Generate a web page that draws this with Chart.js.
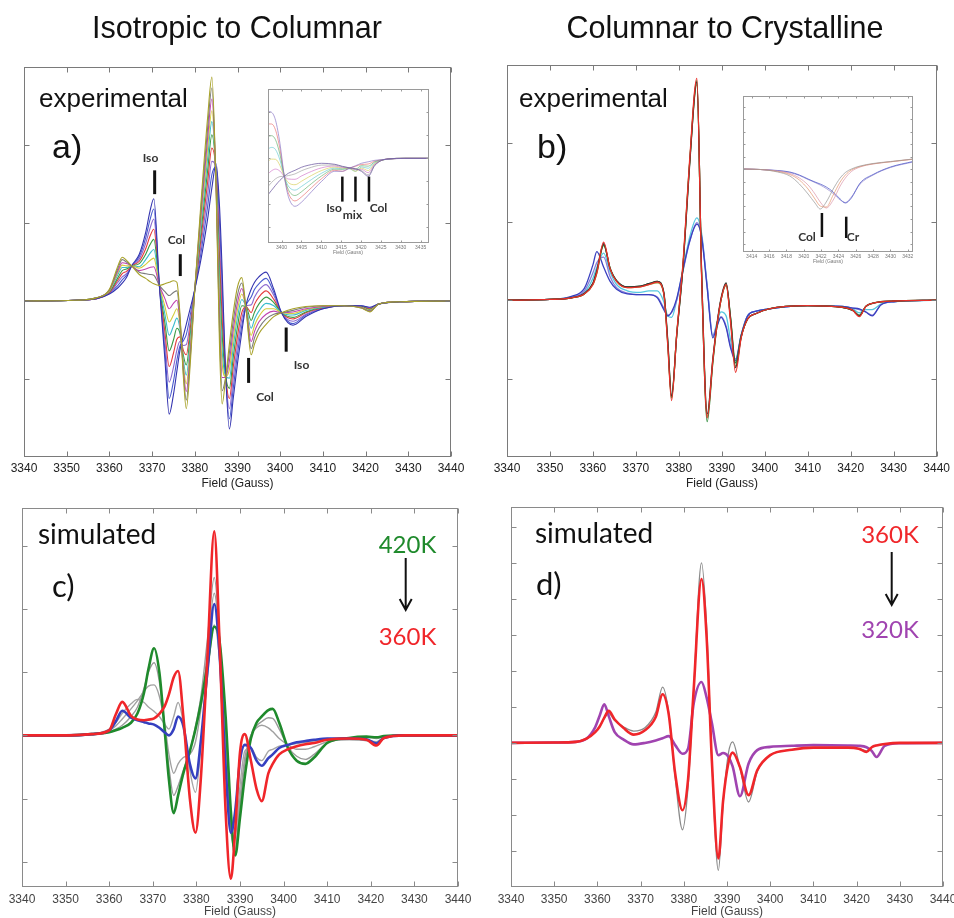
<!DOCTYPE html>
<html>
<head>
<meta charset="utf-8">
<script src="https://cdn.jsdelivr.net/npm/chart.js@4.4.0/dist/chart.umd.min.js"></script>
<style>
  html, body { margin: 0; padding: 0; background: #fff; width: 954px; height: 918px; overflow: hidden; }
  canvas { position: absolute; }
</style>
</head>
<body>
<canvas id="panelA" width="477" height="500" style="left:0px;top:0px"></canvas>
<canvas id="panelB" width="477" height="500" style="left:477px;top:0px"></canvas>
<canvas id="panelC" width="477" height="418" style="left:0px;top:500px"></canvas>
<canvas id="panelD" width="490" height="418" style="left:477px;top:500px"></canvas>
<canvas id="insetA" width="182" height="178" style="left:258px;top:84px"></canvas>
<canvas id="insetB" width="190" height="178" style="left:735px;top:90px"></canvas>
<script>
// ---- axis ticks ----
const fieldTicks = [3340, 3350, 3360, 3370, 3380, 3390, 3400, 3410, 3420, 3430, 3440];
const insetATicks = [3400, 3405, 3410, 3415, 3420, 3425, 3430, 3435];
const insetBTicks = [3414, 3416, 3418, 3420, 3422, 3424, 3426, 3428, 3430, 3432];
const yTicksAB = [-1, 0, 1, 2];
const yTicksC = [-2, -1, 0, 1, 2, 3];
const yTicksD = [-3, -2, -1, 0, 1, 2, 3, 4, 5, 6];
const yTicksAi = [-6.9, -4.6, -2.3, 0, 2.3, 4.6];
const yTicksBi = [-7.5, -6.25, -5, -3.75, -2.5, -1.25, 0, 1.25, 2.5, 3.75, 5, 6.25];

// ---- a) experimental, isotropic -> columnar ----
const fieldA = [3340, 3352, 3357, 3360, 3362, 3363, 3364, 3365.2, 3367, 3368.5, 3369.5, 3370.4, 3371.7, 3373, 3374, 3375, 3375.8, 3376.5, 3377.3, 3378, 3379, 3380, 3381.5, 3383, 3384, 3385, 3385.8, 3386.4, 3387.2, 3388.1, 3389, 3390, 3391, 3392, 3393.2, 3394, 3395, 3396.7, 3398.5, 3400.3, 3403, 3406, 3410, 3415, 3419, 3421, 3423, 3428, 3440];
const aIso = [0, 0.01, 0.03, 0.09, 0.17, 0.23, 0.30, 0.45, 0.60, 0.88, 1.15, 1.31, 0.20, -0.75, -1.45, -1.20, -0.90, -0.64, -0.45, -0.30, -0.08, 0.15, 0.55, 1.05, 1.45, 1.76, 1.20, 0.40, -0.90, -1.64, -1.25, -0.80, -0.40, -0.05, 0.15, 0.24, 0.31, 0.37, 0.15, -0.15, -0.31, -0.20, -0.10, -0.06, -0.06, -0.08, -0.04, -0.01, 0];
const aMix1 = [0, 0.01, 0.03, 0.10, 0.20, 0.27, 0.33, 0.45, 0.57, 0.81, 1.04, 1.18, 0.20, -0.63, -1.25, -1.03, -0.76, -0.58, -0.51, -0.43, -0.16, 0.15, 0.64, 1.21, 1.62, 1.72, 0.98, 0.19, -0.91, -1.51, -1.12, -0.68, -0.32, -0.06, 0.05, 0.15, 0.22, 0.29, 0.11, -0.15, -0.29, -0.18, -0.10, -0.06, -0.06, -0.09, -0.04, -0.01, 0];
const aMix2 = [0, 0.01, 0.03, 0.10, 0.24, 0.31, 0.35, 0.45, 0.54, 0.74, 0.93, 1.05, 0.20, -0.52, -1.04, -0.85, -0.63, -0.52, -0.57, -0.56, -0.24, 0.15, 0.73, 1.36, 1.79, 1.67, 0.77, -0.01, -0.92, -1.38, -0.99, -0.57, -0.23, -0.06, -0.05, 0.05, 0.14, 0.21, 0.07, -0.15, -0.26, -0.17, -0.09, -0.06, -0.07, -0.09, -0.04, -0.01, 0];
const aMix3 = [0, 0.01, 0.03, 0.11, 0.27, 0.35, 0.38, 0.45, 0.51, 0.67, 0.83, 0.92, 0.20, -0.40, -0.84, -0.67, -0.49, -0.46, -0.63, -0.69, -0.32, 0.15, 0.82, 1.52, 1.96, 1.63, 0.55, -0.22, -0.94, -1.25, -0.85, -0.45, -0.15, -0.07, -0.15, -0.04, 0.05, 0.13, 0.02, -0.15, -0.23, -0.15, -0.09, -0.06, -0.07, -0.10, -0.04, -0.01, 0];
const aMix4 = [0, 0.01, 0.04, 0.12, 0.30, 0.39, 0.41, 0.45, 0.48, 0.60, 0.72, 0.79, 0.20, -0.28, -0.64, -0.50, -0.35, -0.41, -0.69, -0.82, -0.40, 0.15, 0.91, 1.67, 2.13, 1.59, 0.34, -0.43, -0.95, -1.12, -0.72, -0.33, -0.06, -0.07, -0.25, -0.14, -0.04, 0.05, -0.02, -0.15, -0.21, -0.14, -0.08, -0.06, -0.07, -0.11, -0.04, -0.01, 0];
const aMix5 = [0, 0.01, 0.04, 0.13, 0.34, 0.43, 0.43, 0.45, 0.44, 0.53, 0.61, 0.66, 0.20, -0.17, -0.44, -0.32, -0.22, -0.35, -0.75, -0.95, -0.48, 0.15, 1.00, 1.83, 2.30, 1.54, 0.12, -0.63, -0.96, -0.99, -0.59, -0.21, 0.02, -0.08, -0.35, -0.23, -0.13, -0.03, -0.06, -0.15, -0.18, -0.12, -0.08, -0.06, -0.08, -0.12, -0.04, -0.01, 0];
const aMix6 = [0, 0.01, 0.04, 0.13, 0.37, 0.46, 0.45, 0.45, 0.42, 0.47, 0.52, 0.55, 0.20, -0.07, -0.27, -0.18, -0.10, -0.30, -0.80, -1.06, -0.55, 0.15, 1.08, 1.96, 2.44, 1.51, -0.06, -0.80, -0.97, -0.88, -0.48, -0.11, 0.09, -0.09, -0.44, -0.31, -0.20, -0.10, -0.10, -0.15, -0.16, -0.11, -0.07, -0.06, -0.08, -0.12, -0.04, -0.01, 0];
const aMix7 = [0, 0.01, 0.04, 0.14, 0.39, 0.49, 0.48, 0.45, 0.39, 0.41, 0.43, 0.44, 0.20, 0.03, -0.10, -0.03, 0.01, -0.25, -0.85, -1.16, -0.62, 0.15, 1.15, 2.09, 2.59, 1.47, -0.24, -0.98, -0.98, -0.77, -0.37, -0.02, 0.16, -0.09, -0.52, -0.39, -0.27, -0.17, -0.13, -0.15, -0.14, -0.10, -0.07, -0.06, -0.08, -0.13, -0.04, -0.01, 0];
const aMix8 = [0, 0.01, 0.04, 0.14, 0.42, 0.53, 0.50, 0.45, 0.37, 0.35, 0.34, 0.33, 0.20, 0.12, 0.07, 0.11, 0.13, -0.20, -0.90, -1.27, -0.68, 0.15, 1.23, 2.22, 2.73, 1.44, -0.42, -1.15, -0.99, -0.66, -0.26, 0.08, 0.23, -0.10, -0.61, -0.47, -0.35, -0.23, -0.17, -0.15, -0.12, -0.08, -0.06, -0.06, -0.09, -0.13, -0.04, -0.01, 0];
const aCol = [0, 0.01, 0.04, 0.15, 0.45, 0.56, 0.52, 0.45, 0.34, 0.29, 0.25, 0.22, 0.20, 0.22, 0.24, 0.26, 0.24, -0.15, -0.95, -1.38, -0.75, 0.15, 1.30, 2.35, 2.87, 1.40, -0.60, -1.32, -1.00, -0.55, -0.15, 0.18, 0.30, -0.10, -0.69, -0.55, -0.42, -0.30, -0.20, -0.15, -0.10, -0.07, -0.06, -0.06, -0.09, -0.14, -0.04, -0.01, 0];

// inset of a): high-field wing
const fieldAi = [3396.5, 3397.5, 3398.5, 3399.6, 3400.7, 3401.7, 3403.4, 3405, 3406.7, 3410.1, 3413.4, 3415.3, 3417, 3418.6, 3420.1, 3421.8, 3423.5, 3426.8, 3431, 3437.1];
const aiIso = [4.7, 4.6, 3.8, 1.5, -1.8, -3.8, -4.8, -4.4, -3.7, -2.3, -1.3, -1.3, -1.0, -0.75, -0.5, -0.35, -0.2, -0.1, 0, 0];
const aiMix1 = [3.44, 3.43, 2.82, 0.94, -1.8, -3.45, -4.26, -3.87, -3.25, -2.03, -1.2, -1.3, -1.0, -0.8, -0.62, -0.57, -0.28, -0.09, 0, 0];
const aiMix2 = [2.18, 2.26, 1.85, 0.39, -1.8, -3.11, -3.72, -3.35, -2.8, -1.76, -1.09, -1.11, -1.0, -1.1, -0.74, -0.79, -0.35, -0.09, 0, 0];
const aiMix3 = [0.92, 1.09, 0.87, -0.17, -1.8, -2.76, -3.18, -2.82, -2.35, -1.49, -0.98, -1.05, -1.05, -1.3, -0.86, -1.0, -0.43, -0.08, 0, 0];
const aiMix4 = [-0.34, -0.08, -0.1, -0.72, -1.8, -2.42, -2.64, -2.3, -1.9, -1.22, -0.88, -0.98, -1.0, -1.3, -0.98, -1.22, -0.5, -0.07, 0, 0];
const aiMix5 = [-1.6, -1.25, -1.08, -1.28, -1.8, -2.07, -2.1, -1.77, -1.45, -0.95, -0.77, -0.91, -0.95, -1.15, -1.1, -1.44, -0.58, -0.06, 0, 0];
const aiMix6 = [-2.86, -2.42, -2.05, -1.83, -1.8, -1.73, -1.56, -1.25, -1.0, -0.68, -0.67, -0.84, -0.95, -1.02, -1.22, -1.66, -0.65, -0.06, 0, 0];
const aiCol = [-3.7, -3.2, -2.7, -2.2, -1.8, -1.5, -1.2, -0.9, -0.7, -0.5, -0.6, -0.8, -0.95, -1.05, -1.3, -1.8, -0.7, -0.05, 0, 0];

// ---- b) experimental, columnar -> crystalline ----
const fieldB = [3340, 3350, 3355, 3358, 3360, 3360.9, 3362.5, 3364, 3365.5, 3368, 3371, 3373, 3375, 3376.5, 3377.4, 3378.3, 3379.5, 3381, 3382.5, 3384.2, 3385.3, 3386.6, 3387.9, 3388.8, 3389.8, 3391, 3392, 3393.2, 3394.5, 3396, 3398, 3401, 3410, 3418, 3420.5, 3422, 3423.5, 3425, 3427, 3430, 3440];
const bRed = [0, 0.01, 0.03, 0.08, 0.2, 0.35, 0.74, 0.4, 0.24, 0.16, 0.17, 0.2, 0.23, 0.08, -0.56, -1.28, -0.43, 0.5, 1.78, 2.83, 0.3, -1.5, -0.77, -0.35, 0, 0.2, -0.26, -0.92, -0.48, -0.24, -0.17, -0.11, -0.07, -0.09, -0.13, -0.21, -0.08, -0.04, -0.02, -0.01, 0];
const bBlack = [0, 0.01, 0.03, 0.09, 0.22, 0.38, 0.72, 0.4, 0.25, 0.17, 0.18, 0.21, 0.24, 0.1, -0.5, -1.22, -0.45, 0.45, 1.72, 2.78, 0.35, -1.45, -0.75, -0.33, 0.02, 0.22, -0.22, -0.86, -0.47, -0.24, -0.17, -0.11, -0.07, -0.09, -0.13, -0.2, -0.08, -0.04, -0.02, -0.01, 0];
const bGreen = [0, 0.01, 0.03, 0.08, 0.21, 0.36, 0.7, 0.41, 0.25, 0.17, 0.18, 0.21, 0.24, 0.09, -0.52, -1.24, -0.44, 0.46, 1.74, 2.8, 0.33, -1.55, -0.8, -0.36, 0.0, 0.21, -0.2, -0.8, -0.46, -0.24, -0.17, -0.11, -0.07, -0.09, -0.13, -0.19, -0.08, -0.04, -0.02, -0.01, 0];
const bOlive = [0, 0.01, 0.03, 0.08, 0.2, 0.34, 0.71, 0.4, 0.24, 0.16, 0.17, 0.2, 0.22, 0.08, -0.54, -1.25, -0.44, 0.48, 1.75, 2.75, 0.32, -1.48, -0.78, -0.35, 0.0, 0.19, -0.22, -0.84, -0.47, -0.24, -0.17, -0.11, -0.07, -0.09, -0.13, -0.2, -0.08, -0.04, -0.02, -0.01, 0];
const bBlue = [0, 0.01, 0.05, 0.15, 0.45, 0.62, 0.42, 0.24, 0.14, 0.08, 0.07, 0.07, 0.03, -0.12, -0.2, -0.15, 0.02, 0.4, 0.75, 0.97, 0.8, 0.15, -0.48, -0.35, -0.22, -0.35, -0.6, -0.77, -0.45, -0.2, -0.14, -0.11, -0.07, -0.08, -0.1, -0.11, -0.15, -0.2, -0.06, -0.02, 0];
const bLilac = [0, 0.01, 0.04, 0.12, 0.35, 0.48, 0.55, 0.3, 0.16, 0.09, 0.07, 0.07, 0.04, -0.1, -0.19, -0.16, 0.0, 0.38, 0.74, 0.99, 0.82, 0.18, -0.45, -0.33, -0.21, -0.33, -0.58, -0.75, -0.44, -0.2, -0.14, -0.11, -0.07, -0.08, -0.1, -0.12, -0.15, -0.19, -0.06, -0.02, 0];
const bCyan = [0, 0.01, 0.04, 0.1, 0.28, 0.42, 0.6, 0.36, 0.2, 0.12, 0.1, 0.12, 0.12, -0.02, -0.2, -0.22, 0.0, 0.4, 0.8, 1.05, 0.85, 0.18, -0.46, -0.3, -0.15, -0.2, -0.5, -0.8, -0.45, -0.2, -0.14, -0.11, -0.07, -0.08, -0.11, -0.16, -0.12, -0.12, -0.05, -0.02, 0];

// inset of b): the 3422 / 3425 G line
const fieldBi = [3413, 3415, 3417, 3418.4, 3419.5, 3420.5, 3421.3, 3421.9, 3422.6, 3423.4, 3424.2, 3424.8, 3425.5, 3426.5, 3428, 3430, 3432.6];
const biCol1 = [0, -0.05, -0.3, -0.7, -1.5, -2.5, -3.4, -4.0, -3.3, -2.0, -0.9, -0.35, 0.0, 0.3, 0.55, 0.75, 1.0];
const biCol2 = [0, -0.05, -0.25, -0.55, -1.1, -2.0, -3.0, -3.7, -3.8, -2.6, -1.3, -0.6, -0.1, 0.25, 0.52, 0.72, 0.98];
const biCol3 = [0, -0.05, -0.2, -0.45, -0.9, -1.6, -2.5, -3.3, -3.9, -3.1, -1.7, -0.9, -0.25, 0.2, 0.5, 0.72, 0.98];
const biCr1 = [0, -0.05, -0.15, -0.3, -0.6, -1.0, -1.3, -1.5, -1.8, -2.3, -3.0, -3.4, -2.9, -1.4, -0.55, 0.2, 0.75];
const biCr2 = [0, -0.05, -0.18, -0.35, -0.65, -1.05, -1.35, -1.6, -1.95, -2.45, -3.1, -3.35, -2.8, -1.5, -0.6, 0.15, 0.7];

// ---- c) simulated, 420 K -> 360 K ----
const fieldC = [3340, 3350, 3356, 3360, 3361.5, 3363, 3365, 3366.5, 3368, 3369, 3370.3, 3371.5, 3372.7, 3373.7, 3374.8, 3375.8, 3377, 3378.5, 3379.8, 3381, 3382.5, 3384.1, 3385.3, 3386.7, 3387.9, 3388.9, 3390, 3391.1, 3392.5, 3393.8, 3395, 3396.5, 3397.5, 3399, 3401, 3403, 3405, 3407, 3410, 3415, 3419, 3421.3, 3423, 3428, 3440];
const c420 = [0, 0, 0.02, 0.05, 0.08, 0.12, 0.2, 0.35, 0.68, 1.05, 1.38, 1.0, 0.1, -0.7, -1.23, -0.95, -0.6, -0.25, 0.1, 0.5, 1.1, 1.72, 1.5, 0.3, -1.2, -1.9, -1.3, -0.65, -0.05, 0.2, 0.3, 0.4, 0.42, 0.2, -0.2, -0.4, -0.45, -0.35, -0.12, -0.04, -0.02, -0.03, -0.01, 0, 0];
const cGrey1 = [0, 0, 0.02, 0.06, 0.1, 0.16, 0.3, 0.45, 0.75, 1.0, 1.15, 0.85, 0.15, -0.5, -0.95, -0.8, -0.55, -0.25, 0.15, 0.6, 1.5, 2.5, 1.6, 0.0, -1.4, -1.85, -1.1, -0.45, 0.0, 0.15, 0.22, 0.28, 0.27, 0.1, -0.18, -0.33, -0.38, -0.3, -0.12, -0.05, -0.03, -0.05, -0.02, 0, 0];
const cGrey2 = [0, 0, 0.02, 0.08, 0.15, 0.26, 0.42, 0.55, 0.7, 0.78, 0.8, 0.62, 0.2, -0.3, -0.6, -0.45, -0.35, -0.3, -0.1, 0.4, 1.3, 2.25, 1.5, -0.1, -1.5, -1.8, -1.0, -0.35, 0.0, 0.12, 0.16, 0.12, 0.06, -0.05, -0.15, -0.22, -0.22, -0.18, -0.1, -0.06, -0.08, -0.1, -0.03, 0, 0];
const cGrey3 = [0, 0, 0.02, 0.1, 0.2, 0.35, 0.5, 0.57, 0.52, 0.45, 0.38, 0.3, 0.18, 0.1, 0.3, 0.52, 0.2, -0.55, -0.9, -0.2, 0.9, 1.75, 1.2, -0.4, -1.5, -1.6, -0.8, -0.25, -0.2, -0.35, -0.4, -0.25, -0.22, -0.17, -0.15, -0.13, -0.11, -0.09, -0.07, -0.07, -0.08, -0.12, -0.04, 0, 0];
const cBlue = [0, 0, 0.02, 0.08, 0.22, 0.39, 0.28, 0.24, 0.21, 0.19, 0.17, 0.12, 0.05, 0.0, 0.1, 0.3, 0.15, -0.45, -0.68, -0.1, 1.0, 2.08, 1.3, -0.5, -1.54, -1.2, -0.4, -0.15, -0.2, -0.4, -0.48, -0.36, -0.3, -0.2, -0.15, -0.11, -0.09, -0.07, -0.05, -0.05, -0.06, -0.13, -0.04, 0, 0];
const c360 = [0, 0, 0.02, 0.08, 0.33, 0.53, 0.31, 0.25, 0.24, 0.25, 0.27, 0.34, 0.46, 0.65, 0.92, 1.02, 0.3, -1.0, -1.54, -0.7, 1.2, 3.23, 1.5, -1.2, -2.27, -1.5, -0.27, 0.02, -0.4, -0.85, -1.04, -0.6, -0.45, -0.3, -0.22, -0.17, -0.14, -0.12, -0.07, -0.05, -0.07, -0.16, -0.04, 0, 0];

// ---- d) simulated, 360 K -> 320 K ----
const fieldD = [3340, 3350, 3355, 3357.5, 3359.5, 3360.5, 3361.6, 3362.6, 3364, 3366, 3368.4, 3371, 3373.5, 3375.1, 3376.5, 3378, 3379.7, 3381, 3382.3, 3384.1, 3385.3, 3386.5, 3388, 3389.1, 3390.3, 3391.3, 3393, 3395, 3397, 3400, 3405, 3410, 3418, 3420.5, 3422.3, 3423.5, 3424.6, 3426.5, 3430, 3440];
const dGrey = [0, 0.01, 0.03, 0.12, 0.3, 0.45, 0.68, 0.82, 0.62, 0.45, 0.33, 0.42, 0.85, 1.55, 0.85, -0.95, -2.41, -1.2, 1.5, 5.0, 3.2, -0.5, -3.54, -1.7, -0.3, 0.03, -0.7, -1.64, -0.8, -0.34, -0.19, -0.13, -0.13, -0.16, -0.22, -0.12, -0.07, -0.03, 0, 0];
const d360 = [0, 0.01, 0.03, 0.12, 0.3, 0.45, 0.7, 0.89, 0.65, 0.42, 0.23, 0.35, 0.72, 1.35, 0.8, -0.85, -1.87, -1.0, 1.5, 4.55, 2.9, -0.5, -3.21, -1.6, -0.57, -0.27, -0.67, -1.45, -0.76, -0.34, -0.19, -0.13, -0.13, -0.16, -0.25, -0.12, -0.07, -0.03, 0, 0];
const d320 = [0, 0.01, 0.03, 0.12, 0.44, 0.75, 1.07, 0.75, 0.3, 0.1, -0.04, 0.0, 0.07, 0.13, 0.19, -0.06, -0.3, -0.15, 1.1, 1.69, 1.25, 0.55, -0.34, -0.28, -0.38, -0.65, -1.48, -0.57, -0.2, -0.11, -0.08, -0.06, -0.07, -0.08, -0.12, -0.22, -0.39, -0.08, -0.01, 0];

const ARIAL = "'Liberation Sans', Arial, sans-serif";
const SOFT = "Lato, 'Open Sans', sans-serif";

function curve(fields, values) {
  return fields.map((f, i) => ({ x: f, y: values[i] }));
}

// frame with inward ticks, marker bars, arrows and free text
function decor(cfg) {
  return {
    id: 'decor',
    afterDatasetsDraw(chart) {
      const { ctx, chartArea: area } = chart;
      const x = chart.scales.x;
      const y = chart.scales.y;
      const ox = cfg.origin[0];
      const oy = cfg.origin[1];
      const l = Math.round(area.left) + 0.5;
      const t = Math.round(area.top) + 0.5;
      const r = Math.round(area.right) - 0.5;
      const b = Math.round(area.bottom) - 0.5;
      ctx.save();
      ctx.strokeStyle = cfg.frame;
      ctx.lineWidth = 1;
      ctx.strokeRect(l, t, r - l, b - t);
      ctx.beginPath();
      cfg.xTicks.forEach((v) => {
        const px = Math.round(x.getPixelForValue(v)) + 0.5;
        ctx.moveTo(px, t); ctx.lineTo(px, t + cfg.tick);
        ctx.moveTo(px, b); ctx.lineTo(px, b - cfg.tick);
      });
      cfg.yTicks.forEach((v) => {
        const py = Math.round(y.getPixelForValue(v)) + 0.5;
        ctx.moveTo(l, py); ctx.lineTo(l + cfg.tick, py);
        ctx.moveTo(r, py); ctx.lineTo(r - cfg.tick, py);
      });
      ctx.stroke();

      ctx.fillStyle = '#111';
      (cfg.bars || []).forEach((m) => {
        const px = x.getPixelForValue(m.x);
        const p0 = y.getPixelForValue(m.y0);
        const p1 = y.getPixelForValue(m.y1);
        ctx.fillRect(px - m.w / 2, Math.min(p0, p1), m.w, Math.abs(p1 - p0));
      });

      ctx.strokeStyle = '#111';
      ctx.lineWidth = 2;
      (cfg.arrows || []).forEach((a) => {
        const ax = a.x - ox;
        ctx.beginPath();
        ctx.moveTo(ax, a.y0 - oy);
        ctx.lineTo(ax, a.y1 - oy);
        ctx.moveTo(ax - 6, a.y1 - oy - 11);
        ctx.lineTo(ax, a.y1 - oy);
        ctx.lineTo(ax + 6, a.y1 - oy - 11);
        ctx.stroke();
      });

      ctx.textBaseline = 'alphabetic';
      (cfg.notes || []).forEach((n) => {
        ctx.font = n.font;
        ctx.fillStyle = n.color || '#111';
        ctx.textAlign = n.align || 'left';
        ctx.fillText(n.text, n.x - ox, n.y - oy);
      });
      ctx.restore();
    },
  };
}

function makeChart(id, o) {
  return new Chart(document.getElementById(id), {
    type: 'line',
    data: {
      datasets: o.lines.map((s) => ({
        data: curve(o.fields, s.values),
        borderColor: s.color,
        borderWidth: s.width,
        pointRadius: 0,
        cubicInterpolationMode: 'monotone',
        fill: false,
      })),
    },
    options: {
      responsive: false,
      animation: false,
      devicePixelRatio: 1,
      events: [],
      layout: { padding: o.padding },
      plugins: { legend: { display: false }, tooltip: { enabled: false } },
      scales: {
        x: {
          type: 'linear',
          min: o.xMin,
          max: o.xMax,
          afterBuildTicks: (s) => { s.ticks = o.xTicks.map((v) => ({ value: v })); },
          afterFit: (s) => { s.height = o.axisHeight; },
          grid: { display: false, drawTicks: false },
          border: { display: false },
          ticks: {
            padding: o.tickPad,
            autoSkip: false,
            maxRotation: 0,
            color: o.tickColor,
            font: { family: ARIAL, size: o.tickSize },
            callback: (v) => String(v),
          },
        },
        y: { type: 'linear', display: false, min: o.yMin, max: o.yMax },
      },
    },
    plugins: [decor({
      origin: o.origin, frame: o.frame, tick: o.tick,
      xTicks: o.xTicks, yTicks: o.yTicks,
      bars: o.bars, arrows: o.arrows, notes: o.notes,
    })],
  });
}

const lineA = 1.1;
makeChart('panelA', {
  origin: [0, 0],
  fields: fieldA,
  lines: [
    { values: aCol, color: '#a8a22a', width: lineA },
    { values: aIso, color: '#3434b0', width: lineA },
    { values: aMix8, color: '#7a7a7a', width: lineA },
    { values: aMix7, color: '#c043b0', width: lineA },
    { values: aMix6, color: '#d4cc3c', width: lineA },
    { values: aMix5, color: '#39bccc', width: lineA },
    { values: aMix4, color: '#3a9a42', width: lineA },
    { values: aMix3, color: '#e43c3c', width: lineA },
    { values: aMix2, color: '#8d6ad0', width: lineA },
    { values: aMix1, color: '#4a5cd0', width: lineA },
  ],
  padding: { left: 24, top: 67, right: 26, bottom: 0 },
  axisHeight: 43, tickPad: 4, tickSize: 12, tickColor: '#222',
  xMin: 3340, xMax: 3440, yMin: -2, yMax: 3,
  xTicks: fieldTicks, yTicks: yTicksAB, frame: '#7a7a7a', tick: 5,
  bars: [
    { x: 3370.6, y0: 1.37, y1: 1.675, w: 3 },
    { x: 3376.6, y0: 0.32, y1: 0.60, w: 3 },
    { x: 3392.6, y0: -0.73, y1: -1.05, w: 3 },
    { x: 3401.4, y0: -0.34, y1: -0.65, w: 3 },
  ],
  notes: [
    { text: 'Isotropic to Columnar', x: 237, y: 38, font: `30.5px ${ARIAL}`, align: 'center' },
    { text: 'experimental', x: 39, y: 107, font: `26px ${ARIAL}` },
    { text: 'a)', x: 52, y: 158, font: `34px ${ARIAL}` },
    { text: 'Iso', x: 150.5, y: 162, font: `bold 12px ${SOFT}`, align: 'center', color: '#333' },
    { text: 'Col', x: 176.5, y: 244, font: `bold 12px ${SOFT}`, align: 'center', color: '#333' },
    { text: 'Col', x: 265, y: 401, font: `bold 12px ${SOFT}`, align: 'center', color: '#333' },
    { text: 'Iso', x: 301.5, y: 369, font: `bold 12px ${SOFT}`, align: 'center', color: '#333' },
    { text: 'Field (Gauss)', x: 237.5, y: 487, font: `12px ${ARIAL}`, align: 'center', color: '#222' },
  ],
});

makeChart('insetA', {
  origin: [258, 84],
  fields: fieldAi,
  lines: [
    { values: aiCol, color: 'rgba(110,90,160,0.75)', width: 1 },
    { values: aiIso, color: 'rgba(140,120,200,0.7)', width: 1 },
    { values: aiMix6, color: 'rgba(150,150,150,0.6)', width: 1 },
    { values: aiMix5, color: 'rgba(200,90,190,0.55)', width: 1 },
    { values: aiMix4, color: 'rgba(210,200,70,0.6)', width: 1 },
    { values: aiMix3, color: 'rgba(70,190,200,0.55)', width: 1 },
    { values: aiMix2, color: 'rgba(70,160,80,0.55)', width: 1 },
    { values: aiMix1, color: 'rgba(230,80,80,0.55)', width: 1 },
  ],
  padding: { left: 10, top: 5, right: 11, bottom: 0 },
  axisHeight: 19, tickPad: 2, tickSize: 5, tickColor: '#777',
  xMin: 3396.6, xMax: 3437.1, yMin: -8.47, yMax: 6.93,
  xTicks: insetATicks, yTicks: yTicksAi, frame: '#9a9a9a', tick: 2,
  bars: [
    { x: 3415.3, y0: -1.83, y1: -4.33, w: 2.5 },
    { x: 3418.6, y0: -1.83, y1: -4.33, w: 2.5 },
    { x: 3422.0, y0: -1.83, y1: -4.33, w: 2.5 },
  ],
  notes: [
    { text: 'Iso', x: 334, y: 212, font: `bold 12px ${SOFT}`, align: 'center', color: '#333' },
    { text: 'mix', x: 352.5, y: 219, font: `bold 12px ${SOFT}`, align: 'center', color: '#333' },
    { text: 'Col', x: 378.5, y: 212, font: `bold 12px ${SOFT}`, align: 'center', color: '#333' },
    { text: 'Field (Gauss)', x: 348, y: 254, font: `5px ${ARIAL}`, align: 'center', color: '#777' },
  ],
});

const lineB = 1.3;
makeChart('panelB', {
  origin: [477, 0],
  fields: fieldB,
  lines: [
    { values: bRed, color: '#e8302a', width: lineB },
    { values: bBlack, color: '#333333', width: lineB },
    { values: bGreen, color: '#2e8b3a', width: lineB },
    { values: bOlive, color: '#a09a3a', width: lineB },
    { values: bBlue, color: '#3a40c0', width: lineB },
    { values: bLilac, color: '#8a80d8', width: lineB },
    { values: bCyan, color: '#55c8e0', width: lineB },
  ],
  padding: { left: 30, top: 65, right: 17, bottom: 0 },
  axisHeight: 43, tickPad: 4, tickSize: 12, tickColor: '#222',
  xMin: 3340, xMax: 3440, yMin: -2, yMax: 3,
  xTicks: fieldTicks, yTicks: yTicksAB, frame: '#7a7a7a', tick: 5,
  notes: [
    { text: 'Columnar to Crystalline', x: 725, y: 38, font: `30.5px ${ARIAL}`, align: 'center' },
    { text: 'experimental', x: 519, y: 107, font: `26px ${ARIAL}` },
    { text: 'b)', x: 537, y: 157.5, font: `34px ${ARIAL}` },
    { text: 'Field (Gauss)', x: 722, y: 487, font: `12px ${ARIAL}`, align: 'center', color: '#222' },
  ],
});

makeChart('insetB', {
  origin: [735, 90],
  fields: fieldBi,
  lines: [
    { values: biCol1, color: 'rgba(150,150,150,0.7)', width: 1 },
    { values: biCol2, color: 'rgba(230,150,110,0.7)', width: 1 },
    { values: biCol3, color: 'rgba(220,150,170,0.7)', width: 1 },
    { values: biCr1, color: 'rgba(80,90,200,0.75)', width: 1 },
    { values: biCr2, color: 'rgba(150,140,210,0.75)', width: 1 },
  ],
  padding: { left: 8, top: 6, right: 12, bottom: 0 },
  axisHeight: 16, tickPad: 2, tickSize: 5, tickColor: '#777',
  xMin: 3413, xMax: 3432.6, yMin: -8.3, yMax: 7.3,
  xTicks: insetBTicks, yTicks: yTicksBi, frame: '#9a9a9a', tick: 2,
  bars: [
    { x: 3422.1, y0: -4.4, y1: -6.8, w: 2.5 },
    { x: 3424.9, y0: -4.77, y1: -6.9, w: 2.5 },
  ],
  notes: [
    { text: 'Col', x: 807, y: 240.5, font: `bold 12px ${SOFT}`, align: 'center', color: '#333' },
    { text: 'Cr', x: 853, y: 240.5, font: `bold 12px ${SOFT}`, align: 'center', color: '#333' },
    { text: 'Field (Gauss)', x: 828, y: 263, font: `5px ${ARIAL}`, align: 'center', color: '#777' },
  ],
});

makeChart('panelC', {
  origin: [0, 500],
  fields: fieldC,
  lines: [
    { values: c360, color: '#f0262a', width: 2.6 },
    { values: cBlue, color: '#3540c0', width: 2.6 },
    { values: c420, color: '#1f8a2c', width: 2.6 },
    { values: cGrey1, color: '#9a9a9a', width: 1.4 },
    { values: cGrey2, color: '#a0a0a0', width: 1.4 },
    { values: cGrey3, color: '#a6a6a6', width: 1.4 },
  ],
  padding: { left: 22, top: 8, right: 19, bottom: 0 },
  axisHeight: 31, tickPad: 5, tickSize: 12, tickColor: '#444',
  xMin: 3340, xMax: 3440, yMin: -2.4, yMax: 3.6,
  xTicks: fieldTicks, yTicks: yTicksC, frame: '#8a8a8a', tick: 5,
  arrows: [{ x: 405.7, y0: 558, y1: 610 }],
  notes: [
    { text: 'simulated', x: 38, y: 544, font: `28px ${SOFT}` },
    { text: 'c)', x: 52, y: 597, font: `31px ${SOFT}` },
    { text: '420K', x: 407.5, y: 553, font: `24px ${SOFT}`, align: 'center', color: '#1f8a2c' },
    { text: '360K', x: 407.5, y: 645, font: `24px ${SOFT}`, align: 'center', color: '#f0262a' },
    { text: 'Field (Gauss)', x: 240, y: 915, font: `12px ${ARIAL}`, align: 'center', color: '#444' },
  ],
});

makeChart('panelD', {
  origin: [477, 500],
  fields: fieldD,
  lines: [
    { values: d360, color: '#f0262a', width: 2.6 },
    { values: d320, color: '#a044b0', width: 2.6 },
    { values: dGrey, color: '#8a8a8a', width: 1.3 },
  ],
  padding: { left: 34, top: 7, right: 24, bottom: 0 },
  axisHeight: 31, tickPad: 5, tickSize: 12, tickColor: '#444',
  xMin: 3340, xMax: 3440, yMin: -4, yMax: 6.55,
  xTicks: fieldTicks, yTicks: yTicksD, frame: '#8a8a8a', tick: 5,
  arrows: [{ x: 891.7, y0: 552, y1: 605 }],
  notes: [
    { text: 'simulated', x: 535, y: 543, font: `28px ${SOFT}` },
    { text: 'd)', x: 536, y: 595, font: `31px ${SOFT}` },
    { text: '360K', x: 890, y: 543, font: `24px ${SOFT}`, align: 'center', color: '#f0262a' },
    { text: '320K', x: 890, y: 638, font: `24px ${SOFT}`, align: 'center', color: '#a044b0' },
    { text: 'Field (Gauss)', x: 727, y: 915, font: `12px ${ARIAL}`, align: 'center', color: '#444' },
  ],
});
</script>
</body>
</html>
